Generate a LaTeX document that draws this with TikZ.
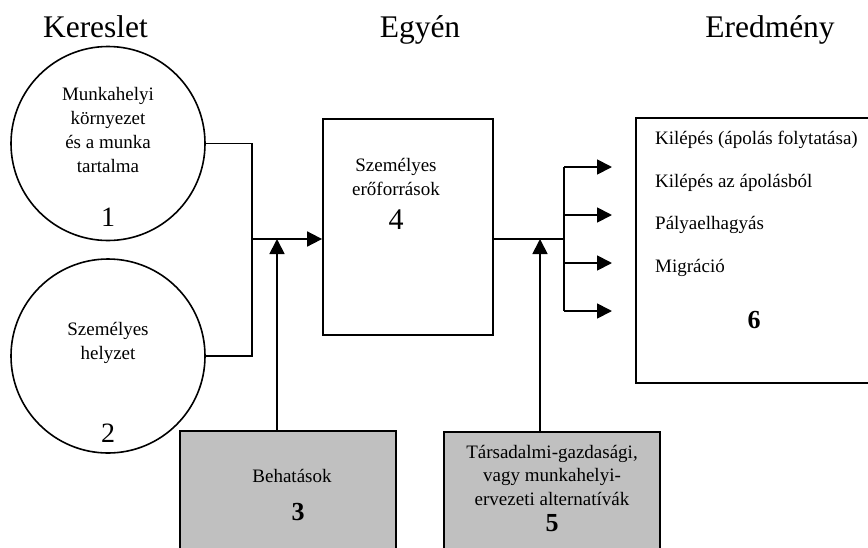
\documentclass[tikz,border=0pt]{standalone}
\usepackage{fontspec}
\setmainfont{Liberation Serif}
\usetikzlibrary{arrows.meta,positioning}
\definecolor{BoxGray}{HTML}{C0C0C0}
\tikzset{circ/.style={draw,circle,line width=1.6pt,minimum size=194pt,inner sep=0pt},
blk/.style={draw,line width=1.8pt,inner sep=0pt},
txt/.style={inner sep=0pt,align=center,font=\fontsize{19}{24}\selectfont},
head/.style={inner sep=0pt,anchor=base,font=\fontsize{31.5}{36}\selectfont},
num/.style={inner sep=0pt,font=\fontsize{28}{30}\selectfont},
bnum/.style={inner sep=0pt,font=\fontsize{26}{30}\selectfont\bfseries},
ln/.style={line width=1.8pt},
arr/.style={-{Triangle[length=15pt,width=15pt]},line width=1.8pt}}

\begin{document}
\begin{tikzpicture}[x=1pt,y=-1pt]
\useasboundingbox (0,0) rectangle (868,547);
% column titles
\node[head] (hdem) at (95.5,37) {Kereslet};
\node[head] (hind) at (420,37) {Egyén};
\node[head] (hres) at (770,37) {Eredmény};
% demand side
\node[circ] (c1) at (108,143.5) {};
\node[txt] (t1) at (108,130) {Munkahelyi\\környezet\\és a munka\\tartalma};
\node[num] (n1) at (108,217) {1};
\node[circ] (c2) at (108,356) {};
\node[txt] (t2) at (108,343) {Személyes\\helyzet};
\node[num] (n2) at (108,433) {2};
% individual
\node[blk,minimum width=170pt,minimum height=216pt] (b4) at (408,227) {};
\node[txt] (t4) at (396,177) {Személyes\\erőforrások};
\node[num,font=\fontsize{30}{32}\selectfont] (n4) at (396,220) {4};
\node[blk,fill=BoxGray,minimum width=216pt,minimum height=129pt] (b3) at (288,495.5) {};
\node[txt] (t3) at (292,476) {Behatások};
\node[bnum] (n3) at (298,512) {3};
\node[blk,fill=BoxGray,minimum width=216pt,minimum height=128pt] (b5) at (552,496) {};
\node[txt,font=\fontsize{19}{23.5}\selectfont] (t5) at (552,475) {Társadalmi-gazdasági,\\vagy munkahelyi-\\ervezeti alternatívák};
\node[bnum] (n5) at (552,523) {5};
% outcomes
\node[blk,minimum width=254pt,minimum height=265pt] (b6) at (763,250.5) {};
\node[txt,anchor=base west] (o1) at (655,144.5) {Kilépés (ápolás folytatása)};
\node[txt,anchor=base west] (o2) at (655,187.5) {Kilépés az ápolásból};
\node[txt,anchor=base west] (o3) at (655,229.5) {Pályaelhagyás};
\node[txt,anchor=base west] (o4) at (655,272.5) {Migráció};
\node[bnum] (n6) at (754,320) {6};
% connectors
\coordinate (jin) at (252,239);
\coordinate (m3) at (277,239);
\coordinate (jout) at (564,239);
\coordinate (m5) at (540,239);
\draw[ln] (c1.east)-|(jin); \draw[ln] (c2.east)-|(jin);
\draw[arr] (jin)--(jin-|b4.west);
\draw[arr] (m3|-b3.north)--(m3);
\draw[ln] (jout-|b4.east)--(jout);
\draw[arr] (m5|-b5.north)--(m5);
\coordinate (ftop) at (564,167); \coordinate (fbot) at (564,311);
\draw[ln] (ftop)--(fbot);
\foreach \y [count=\i] in {167,215,263,311}{
\coordinate (e\i) at (612,\y);
\draw[arr] (ftop|-e\i)--(e\i);}
\end{tikzpicture}
\end{document}
